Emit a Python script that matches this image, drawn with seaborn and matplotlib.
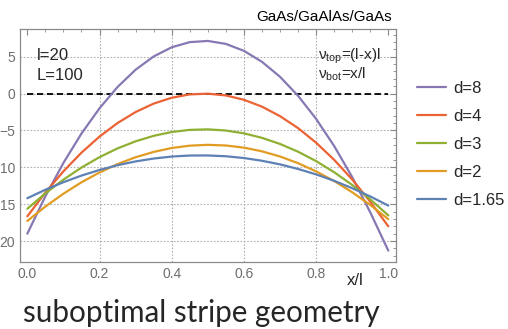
import numpy as np
import pandas as pd
import matplotlib
matplotlib.use("Agg")
import matplotlib.pyplot as plt
from matplotlib.ticker import AutoMinorLocator
import seaborn as sns

# ---------------- data ----------------
x_vals = [0.00, 0.05, 0.10, 0.15, 0.20, 0.25, 0.30, 0.35, 0.40, 0.45, 0.50,
          0.55, 0.60, 0.65, 0.70, 0.75, 0.80, 0.85, 0.90, 0.95, 1.00]
d8 = [-19.00, -13.93, -9.40, -5.42, -1.99, 0.90, 3.24, 5.04, 6.28, 6.98, 7.14,
      6.74, 5.80, 4.31, 2.28, -0.30, -3.43, -7.11, -11.33, -16.10, -21.30]
d4 = [-16.64, -13.42, -10.54, -8.01, -5.83, -3.99, -2.50, -1.36, -0.56, -0.11, -0.01,
      -0.25, -0.84, -1.77, -3.06, -4.68, -6.66, -8.98, -11.65, -14.66, -18.00]
d3 = [-15.62, -13.53, -11.67, -10.03, -8.62, -7.43, -6.47, -5.73, -5.21, -4.92, -4.85,
      -5.01, -5.39, -6.00, -6.83, -7.88, -9.16, -10.66, -12.39, -14.34, -16.52]
d2 = [-17.27, -15.32, -13.58, -12.03, -10.70, -9.56, -8.63, -7.91, -7.38, -7.06, -6.95,
      -7.04, -7.33, -7.83, -8.53, -9.44, -10.55, -11.86, -13.38, -15.10, -17.03]
d165 = [-14.19, -13.04, -12.02, -11.12, -10.36, -9.71, -9.20, -8.81, -8.54, -8.40, -8.39,
        -8.50, -8.74, -9.11, -9.60, -10.22, -10.96, -11.83, -12.83, -13.95, -15.19]

series_labels = ["d=8", "d=4", "d=3", "d=2", "d=1.65"]
series_values = [d8, d4, d3, d2, d165]
series_colors = ["#8778B3", "#EB6235", "#8FB032", "#E19C24", "#5E81B5"]

x_ticks = [0.0, 0.2, 0.4, 0.6, 0.8, 1.0]
x_ticklabels = ["0.0", "0.2", "0.4", "0.6", "0.8", "1.0"]
y_ticks = [5, 0, -5, -10, -15, -20]
# as visible in the (left-cropped) reference
y_ticklabels = ["5", "0", "\u22125", "10", "15", "20"]

title_text = "GaAs/GaAlAs/GaAs"
param_lines = ["l=20", "L=100"]
nu_lines = [r"$\mathregular{\nu_{top}}$=(l-x)l", r"$\mathregular{\nu_{bot}}$=x/l"]
x_label = "x/l"
caption = "suboptimal stripe geometry"

# ---------------- figure ----------------
sns.set_style("white")
plt.rcParams["font.family"] = ["Liberation Sans", "DejaVu Sans"]
plt.rcParams["mathtext.fontset"] = "custom"
plt.rcParams["mathtext.rm"] = "Liberation Sans"

W, H = 508, 329
fig = plt.figure(figsize=(W / 100, H / 100), dpi=100)

def fx(px):
    return px / W

def fy(py):
    return 1 - py / H

left, right, top, bottom = 19.5, 395.7, 29.0, 261.7
ax = fig.add_axes([fx(left), fy(bottom), fx(right) - fx(left), fy(top) - fy(bottom)])

df = pd.DataFrame({
    "x": np.tile(x_vals, len(series_labels)),
    "y": np.concatenate(series_values),
    "d": np.repeat(series_labels, len(x_vals)),
})

grid_color = "#b0b0b0"
ax.grid(axis="y", color=grid_color, ls=(0, (1.5, 1.5)), lw=0.8)
for xv in x_ticks[1:-1]:
    ax.axvline(xv, color=grid_color, ls=(0, (1.5, 1.5)), lw=0.8, zorder=0.5)

ax.hlines(0, x_vals[0], x_vals[-1], colors="black", linestyles=(0, (3.5, 2.0)), lw=1.3, zorder=1.5)

sns.lineplot(data=df, x="x", y="y", hue="d", hue_order=series_labels,
             palette=dict(zip(series_labels, series_colors)), lw=1.6, ax=ax, zorder=3)

ax.set_xlim(-0.0217, 1.0205)
ax.set_ylim(-22.8, 8.76)
ax.set_xticks(x_ticks)
ax.set_xticklabels(x_ticklabels)
ax.set_yticks(y_ticks)
ax.set_yticklabels(y_ticklabels)
ax.xaxis.set_minor_locator(AutoMinorLocator(4))
ax.yaxis.set_minor_locator(AutoMinorLocator(5))
ax.set_xlabel("")
ax.set_ylabel("")

frame_color = "#8a8a8a"
for s in ax.spines.values():
    s.set_color(frame_color)
    s.set_linewidth(0.9)
ax.tick_params(which="both", direction="in", top=True, right=True, color=frame_color,
               labelcolor="#6e6e6e", labelsize=10)
ax.tick_params(which="major", length=4, width=0.8)
ax.tick_params(which="minor", length=2.2, width=0.6)
ax.tick_params(axis="y", pad=3.0)
ax.tick_params(axis="x", pad=4)

handles, labels = ax.get_legend_handles_labels()
ax.legend(handles, labels, loc="center left", bbox_to_anchor=(fx(416.7), fy(144.2)),
          bbox_transform=fig.transFigure, frameon=False, fontsize=12,
          handlelength=1.78, handletextpad=0.4, labelspacing=0.78,
          borderpad=0, borderaxespad=0)

fig.text(fx(392), fy(20.7), title_text, ha="right", va="baseline", fontsize=11, color="black")
fig.text(fx(36.7), fy(60), param_lines[0], ha="left", va="baseline", fontsize=12)
fig.text(fx(36.7), fy(80), param_lines[1], ha="left", va="baseline", fontsize=12)
fig.text(fx(318), fy(60), nu_lines[0], ha="left", va="baseline", fontsize=11)
fig.text(fx(318), fy(79), nu_lines[1], ha="left", va="baseline", fontsize=11)
fig.text(fx(347), fy(285), x_label, ha="left", va="baseline", fontsize=12)
fig.text(fx(22.7), fy(321.7), caption, ha="left", va="baseline", fontsize=21.3,
         family=["Lato", "DejaVu Sans"])

fig.savefig("out.png", dpi=100)
